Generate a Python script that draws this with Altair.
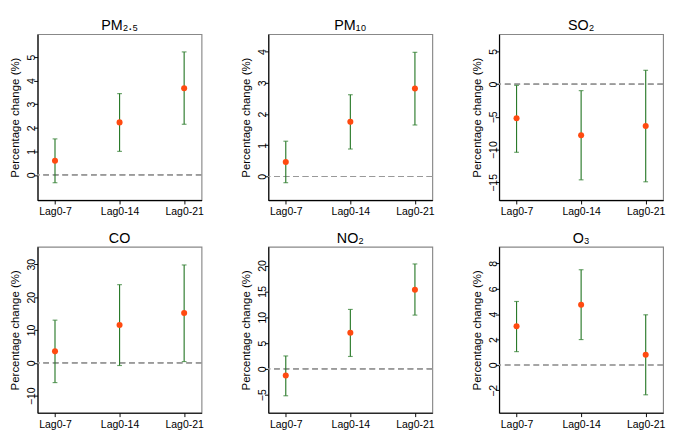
import altair as alt
import pandas as pd

lags = ["Lag0-7", "Lag0-14", "Lag0-21"]
panels = ["PM₂.₅", "PM₁₀", "SO₂", "CO", "NO₂", "O₃"]
est = [[0.60, 2.23, 3.68], [0.46, 1.75, 2.82], [-5.2, -7.8, -6.4],
       [3.5, 11.5, 15.2], [-1.3, 7.0, 15.3], [3.05, 4.75, 0.80]]
lower = [[-0.33, 1.00, 2.15], [-0.20, 0.88, 1.65], [-10.4, -14.6, -14.9],
         [-6.0, -0.8, 0.4], [-5.2, 2.4, 10.4], [1.05, 2.00, -2.35]]
upper = [[1.53, 3.45, 5.22], [1.13, 2.62, 3.98], [-0.2, -1.0, 2.1],
         [13.0, 23.8, 29.8], [2.5, 11.5, 20.3], [5.00, 7.50, 3.95]]
domains = [[-1.07, 5.97], [-0.76, 4.56], [-17.7, 7.6],
           [-15.2, 35.3], [-8.5, 23.6], [-3.77, 9.3]]
ticks = [[0, 1, 2, 3, 4, 5], [0, 1, 2, 3, 4], [-15, -10, -5, 0, 5],
         [-10, 0, 10, 20, 30], [-5, 0, 5, 10, 15, 20], [-2, 0, 2, 4, 6, 8]]

FONT = "Liberation Sans"
GREEN = "#2a7a2a"
ORANGE = "#ff4a10"


def panel(i):
    df = pd.DataFrame({"lag": lags, "est": est[i], "lo": lower[i], "hi": upper[i]})
    x = alt.X("lag:N", sort=lags, title=None,
              scale=alt.Scale(type="point", domain=lags, padding=0.27),
              axis=alt.Axis(labelAngle=0, labelFontSize=11, labelColor="black",
                            tickColor="black", domainColor="black", tickSize=4,
                            labelPadding=2, labelFont=FONT))
    yscale = alt.Scale(domain=domains[i], nice=False, zero=False)
    yaxis = alt.Axis(values=ticks[i], labelAngle=270, labelFontSize=11,
                     labelColor="black", tickColor="black", domainColor="black",
                     tickSize=4, labelPadding=2, grid=False,
                     title="Percentage change (%)", titleFontSize=12,
                     titleFontWeight="normal", titleColor="black",
                     titlePadding=5, labelFont=FONT, titleFont=FONT,
                     labelBaseline="middle", labelAlign="center")
    base = alt.Chart(df)
    zero = base.mark_rule(color="#999999", strokeDash=[6, 4], strokeWidth=1.2).encode(
        y=alt.Y(datum=0, scale=yscale, axis=yaxis))
    bars = base.mark_rule(color=GREEN, strokeWidth=1.2).encode(
        x=x, y=alt.Y("lo:Q", scale=yscale, axis=yaxis), y2="hi:Q")
    cap_lo = base.mark_tick(color=GREEN, size=5, thickness=1.2, orient="horizontal").encode(
        x=x, y=alt.Y("lo:Q", scale=yscale, axis=yaxis))
    cap_hi = base.mark_tick(color=GREEN, size=5, thickness=1.2, orient="horizontal").encode(
        x=x, y=alt.Y("hi:Q", scale=yscale, axis=yaxis))
    pts = base.mark_point(filled=True, shape="circle", size=40, color=ORANGE, opacity=1).encode(
        x=x, y=alt.Y("est:Q", scale=yscale, axis=yaxis))
    return alt.layer(zero, bars, cap_lo, cap_hi, pts).properties(
        width=172, height=174,
        title=alt.TitleParams(panels[i], fontSize=15, fontWeight="normal",
                              font=FONT, color="black", offset=1))


row1 = alt.hconcat(panel(0), panel(1), panel(2), spacing=36)
row2 = alt.hconcat(panel(3), panel(4), panel(5), spacing=36)
chart = alt.vconcat(row1, row2, spacing=14).properties(padding=0).configure_view(
    stroke="#888888", strokeWidth=1.2).configure_axis(domainWidth=1.2)

chart.save("out.html", embed_options={"renderer": "svg", "actions": False})
